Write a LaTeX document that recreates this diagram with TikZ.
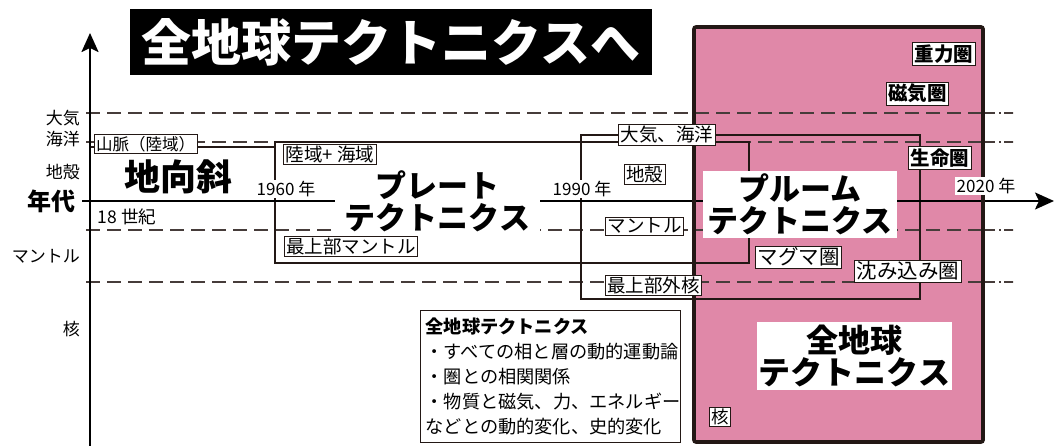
\documentclass[tikz,border=0pt]{standalone}
\usepackage{fontspec}
\setmainfont{Noto Sans CJK JP}
\usetikzlibrary{arrows.meta}
\definecolor{dk}{RGB}{35,24,21}
\definecolor{pk}{RGB}{224,136,168}
\definecolor{dashc}{RGB}{70,60,58}
\newcommand{\fsz}[1]{\fontsize{#1}{#1}\selectfont}
\tikzset{
  lbl/.style={draw=dk, fill=white, line width=0.8pt, inner xsep=2pt, inner ysep=1.5pt, font=\fsz{18.5}},
  plbl/.style={draw=dk, fill=white, line width=0.8pt, inner xsep=2pt, inner ysep=2pt, font=\fsz{19.5}\bfseries},
  side/.style={anchor=east, inner sep=0pt, font=\fsz{17}, align=right},
  year/.style={fill=white, inner sep=1.5pt, font=\fsz{17}},
  bigt/.style={fill=white, inner sep=0pt, align=center, font=\fontsize{31}{32}\selectfont\bfseries},
  rectline/.style={draw=dk, line width=1.6pt},
  dline/.style={draw=dashc, line width=1.2pt, dash pattern=on 14pt off 7pt},
  dend/.style={draw=dashc, line width=1.2pt, dash pattern=on 10pt off 4pt on 2pt off 3pt on 9pt off 0pt},
  axis/.style={draw=black, line width=2.4pt, -{Stealth[length=19pt,width=17pt,inset=4pt]}}
}
\begin{document}
\begin{tikzpicture}[x=1pt,y=-1pt]
\useasboundingbox (0,0) rectangle (1054,446);
% pink area fill
\fill[pk] (694,27) rectangle (983,442);
% dashed level lines
\foreach \yy/\nm in {113/a,142/b,230/c,282/d}{
  \coordinate (ds\nm) at (86,\yy);
  \coordinate (dm\nm) at (985,\yy);
  \coordinate (de\nm) at (1013,\yy);
  \draw[dline] (ds\nm) -- (dm\nm);
  \draw[dend] (dm\nm) -- (de\nm);
}
% period rectangles
\coordinate (g1) at (90,147);
\coordinate (g2) at (275,147);
\draw[rectline] (g1) -- (g2);
\coordinate (p1) at (275,142);
\coordinate (p2) at (749,263);
\draw[rectline] (p1) rectangle (p2);
\coordinate (q1) at (581,135);
\coordinate (q2) at (920,299);
\draw[rectline] (q1) rectangle (q2);
% axes
\coordinate (ax0) at (90,446);
\coordinate (ax1) at (90,33);
\draw[axis] (ax0) -- (ax1);
\coordinate (ay0) at (82,201);
\coordinate (ay1) at (1054,201);
\draw[axis, line width=2pt] (ay0) -- (ay1);
% pink border
\draw[dk, line width=3.6pt, rounded corners=2pt] (694,27) rectangle (983,442);

% title
\node[fill=black, text=white, minimum width=522pt, minimum height=66pt, inner sep=0pt,
      font=\fsz{50}\bfseries] (title) at (391,42) {全地球テクトニクスへ};

% side labels
\node[side, font=\fontsize{17}{21}\selectfont] (s1) at (80,129) {大気\\海洋};
\node[side] (s2) at (80,172) {地殻};
\node[side, font=\fsz{24}\bfseries] (s3) at (76,201) {年代};
\node[side] (s4) at (80,256) {マントル};
\node[side] (s5) at (80,329) {核};

% era 1
\node[lbl, font=\fsz{16.5}] (sanmyaku) at (145.5,144) {山脈（陸域）};
\node[inner sep=0pt, font=\fsz{36}\bfseries] (chikou) at (178,177) {地向斜};
\node[inner sep=0pt, font=\fsz{17.5}] (c18) at (127,217) {18 世紀};
\node[year] (y1960) at (286,189) {1960 年};

% era 2
\node[lbl] (rikuiki) at (330,154.5) {陸域+ 海域};
\node[lbl] (saijo) at (351,246.5) {最上部マントル};
\node[bigt, minimum width=205pt, minimum height=68pt] (plate) at (437.5,201) {プレート\\テクトニクス};

% era 3
\node[year] (y1990) at (582,189) {1990 年};
\node[lbl] (taiki) at (667,135) {大気、海洋};
\node[lbl] (chikaku) at (644.5,174.5) {地殻};
\node[lbl] (mantle) at (644.5,226) {マントル};
\node[lbl] (gaikaku) at (653.5,285.5) {最上部外核};
\node[bigt, minimum width=194pt, minimum height=67pt] (plume) at (800,204.5) {プルーム\\テクトニクス};

% era 4 (pink)
\node[plbl] (juryoku) at (944,54) {重力圏};
\node[plbl] (jiki) at (917.5,93.5) {磁気圏};
\node[plbl] (seimei) at (940,158) {生命圏};
\node[year] (y2020) at (986,186) {2020 年};
\node[lbl, font=\fsz{20.5}] (magma) at (798.5,257) {マグマ圏};
\node[lbl, font=\fsz{20.5}] (shizumi) at (908,271) {沈み込み圏};
\node[bigt, minimum width=195pt, minimum height=68pt, font=\fontsize{32}{32}\selectfont\bfseries] (zenchi) at (854.5,356) {全地球\\テクトニクス};
\node[lbl, font=\fsz{17.5}] (kaku) at (720,417) {核};

% description box
\node[draw=dk, line width=1.2pt, fill=white, anchor=north west, minimum width=260pt, minimum height=132pt,
      inner xsep=5pt, inner ysep=5pt, align=left, text width=250pt, font=\fontsize{18.2}{25}\selectfont] (desc) at (420,310)
  {{\bfseries 全地球テクトニクス}\\・すべての相と層の動的運動論\\・圏との相関関係\\・物質と磁気、力、エネルギー\\などとの動的変化、史的変化};
\end{tikzpicture}
\end{document}
